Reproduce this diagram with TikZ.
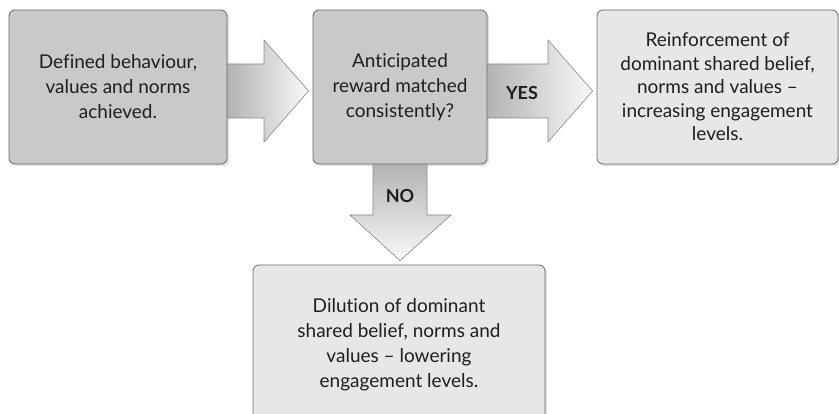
\documentclass[tikz,border=0pt]{standalone}
\usepackage{fontspec}
\setmainfont{Lato}[Ligatures=NoCommon]
\usetikzlibrary{calc,shadows}
\definecolor{txt}{HTML}{1E1E1E}
\definecolor{edge}{HTML}{6A6A6A}
\definecolor{darkfill}{HTML}{C9C9C9}
\definecolor{lightfill}{HTML}{E7E7E7}
\tikzset{
  x=1pt,y=-1pt,
  box/.style={draw=edge, line width=0.8pt, rounded corners=6pt, text=txt,
    align=center, font=\fontsize{19}{25}\selectfont,
    drop shadow={opacity=0.25, shadow xshift=2pt, shadow yshift=-2pt}},
  darkbox/.style={box, fill=darkfill},
  lightbox/.style={box, fill=lightfill},
  harrow/.style={draw=edge!80, line width=0.6pt, left color=gray!60, right color=white!95!gray},
  varrow/.style={draw=edge!80, line width=0.6pt, top color=gray!60, bottom color=white!95!gray},
  lbl/.style={text=txt, font=\fontsize{18}{22}\selectfont\bfseries},
}
\begin{document}
\begin{tikzpicture}
\useasboundingbox (0,0) rectangle (839,414);
\node[darkbox, minimum width=218pt, minimum height=154pt] (b1) at (118,87)
  {Defined behaviour,\\values and norms\\achieved.};
\node[darkbox, minimum width=174pt, minimum height=154pt] (b2) at (400,87)
  {Anticipated\\reward matched\\consistently?};
\node[lightbox, minimum width=241pt, minimum height=154pt, font=\fontsize{19}{23.5}\selectfont] (b3) at (717.5,87)
  {Reinforcement of\\dominant shared belief,\\norms and values --\\increasing engagement\\levels.};
\node[lightbox, minimum width=292pt, minimum height=160pt] (b4) at (399,345)
  {Dilution of dominant\\shared belief, norms and\\values -- lowering\\engagement levels.};

% arrow 1
\draw[harrow] ($(b1.east)+(0,-23)$) -- (264,64) -- (264,40) -- ($(b2.west)+(-4,4)$)
  -- (264,142) -- (264,118) -- ($(b1.east)+(0,31)$) -- cycle;
% arrow 2 (YES)
\draw[harrow] ($(b2.east)+(0,-23)$) -- (548,64) -- (548,40) -- ($(b3.west)+(-4,4)$)
  -- (548,142) -- (548,118) -- ($(b2.east)+(0,31)$) -- cycle;
\node[lbl] (yes) at (522,93) {YES};
% arrow 3 (NO)
\draw[varrow] ($(b2.south)+(-27,0)$) -- (373,215) -- (350,215) -- ($(b4.north)+(1,-4)$)
  -- (451,215) -- (427,215) -- ($(b2.south)+(27,0)$) -- cycle;
\node[lbl] (no) at (400,196) {NO};
\end{tikzpicture}
\end{document}
